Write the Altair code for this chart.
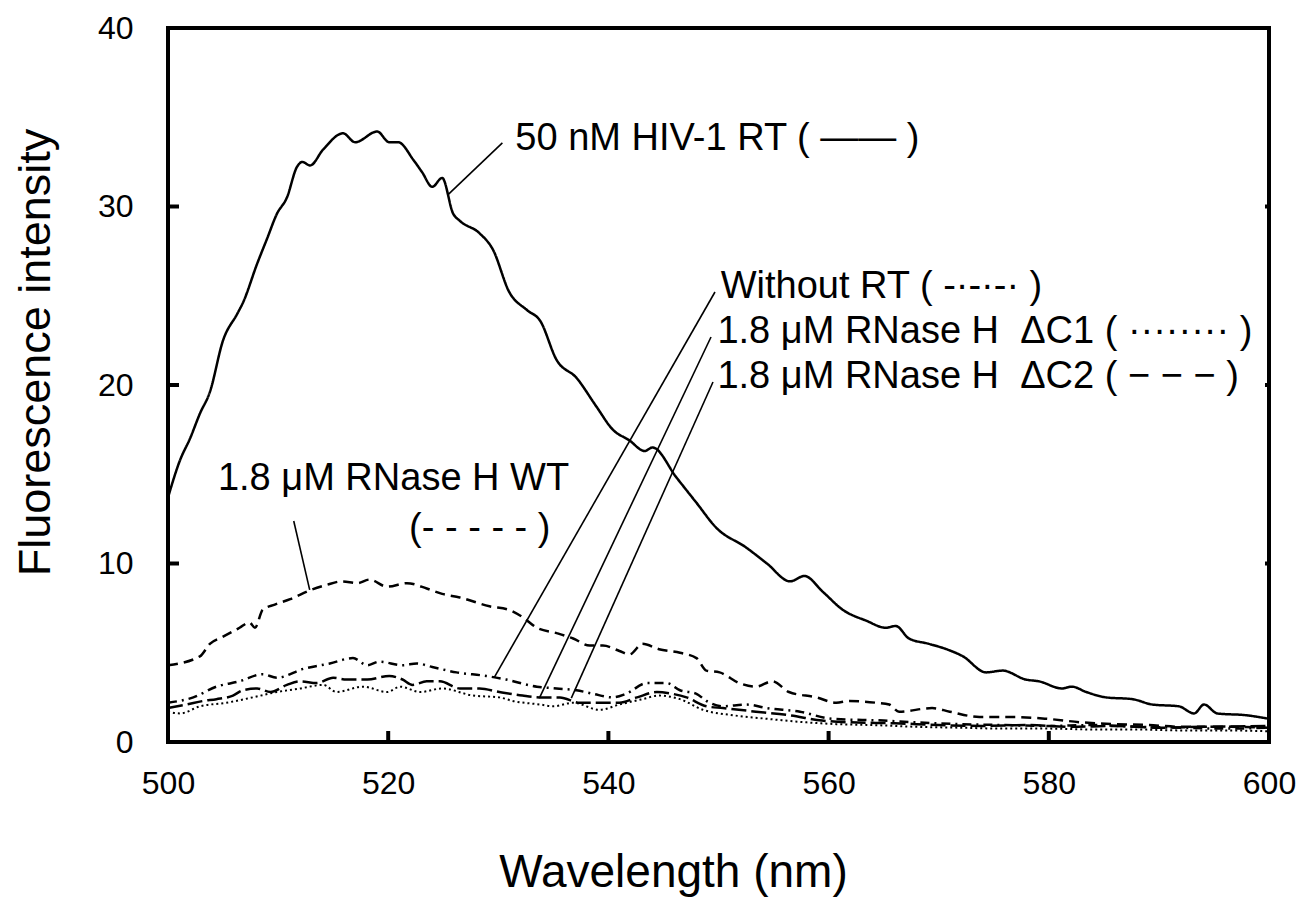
import altair as alt
import pandas as pd

# ---------------- data ----------------
wl_rt = [500, 501.1, 502.0, 502.9, 503.8, 505.0, 506.3, 506.8, 508.1, 509.0, 509.9, 510.8, 511.7, 512.2,
         512.9, 514.1, 515.9, 517.0, 519.0, 520.1, 520.9, 522.3, 523.1, 524.0, 524.9, 525.9, 526.5, 528.3,
         529.5, 531.0, 532.6, 533.8, 535.3, 537.1, 538.9, 540.4, 541.9, 543.3, 544.0, 546.2, 548.0, 549.8,
         552.5, 554.4, 556.5, 557.8, 559.5, 561.3, 563.4, 565.2, 566.1, 567.3, 569.1, 570.7, 572.2, 574.3,
         575.8, 577.9, 579.1, 581.2, 582.1, 583.4, 585.2, 587.6, 589.4, 591.8, 593.2, 594.1, 595.3, 597.9, 600]
fi_rt = [13.7, 15.8, 17.0, 18.4, 19.6, 22.5, 24.0, 24.6, 26.8, 28.2, 29.6, 30.5, 32.2, 32.5,
         32.3, 33.2, 34.1, 33.6, 34.2, 33.6, 33.6, 32.6, 31.9, 31.1, 31.6, 29.6, 29.2, 28.5,
         27.6, 25.2, 24.2, 23.6, 21.4, 20.4, 18.8, 17.5, 16.9, 16.3, 16.5, 14.8, 13.4, 12.0,
         10.9, 10.0, 9.0, 9.3, 8.4, 7.4, 6.8, 6.4, 6.5, 5.8, 5.5, 5.2, 4.8, 3.9,
         4.0, 3.5, 3.4, 3.0, 3.1, 2.8, 2.5, 2.4, 2.1, 2.0, 1.6, 2.1, 1.6, 1.5, 1.3]

wl_wt = [500, 502.9, 503.8, 505.0, 506.5, 507.4, 507.9, 508.6, 509.7, 511.1, 512.9, 514.4, 515.8, 517.2,
         518.3, 519.9, 521.7, 523.5, 524.9, 526.5, 529.2, 531.0, 532.2, 533.5, 535.3, 536.8, 538.3, 539.5,
         541.0, 541.9, 543.1, 544.6, 546.5, 548.0, 548.9, 550.1, 551.9, 553.4, 554.9, 556.4, 558.9, 560.7,
         561.9, 564.3, 565.5, 566.4, 569.4, 571.0, 573.7, 576.7, 579.8, 583.0, 586.1, 589.1, 592.1, 596.6, 600]
fi_wt = [4.3, 4.8, 5.5, 5.9, 6.4, 6.7, 6.4, 7.4, 7.7, 8.0, 8.5, 8.8, 9.0, 8.9,
         9.1, 8.7, 8.9, 8.6, 8.3, 8.1, 7.6, 7.4, 7.0, 6.4, 6.1, 5.8, 5.4, 5.4,
         5.1, 4.9, 5.5, 5.2, 5.0, 4.7, 4.0, 3.9, 3.3, 3.1, 3.4, 2.8, 2.5, 2.2,
         2.3, 2.2, 2.1, 1.7, 1.9, 1.7, 1.4, 1.4, 1.3, 1.1, 1.0, 0.95, 0.85, 0.85, 0.8]

wl_no = [500, 502.3, 504.4, 506.5, 508.6, 509.9, 512.3, 514.7, 516.8, 518.1, 519.2, 521.3, 522.6, 524.0,
         526.2, 528.9, 530.7, 533.5, 535.3, 537.1, 538.6, 540.4, 541.6, 543.5, 545.3, 546.5, 548.0, 548.9,
         550.4, 552.5, 554.4, 557.4, 560.3, 565, 568, 572, 576, 580, 584, 588, 592, 596, 600]
fi_no = [2.2, 2.5, 3.1, 3.4, 3.8, 3.6, 4.1, 4.4, 4.7, 4.3, 4.5, 4.3, 4.4, 4.2,
         3.9, 3.7, 3.5, 3.1, 3.0, 2.9, 2.7, 2.5, 2.7, 3.3, 3.3, 2.9, 2.7, 2.3,
         2.0, 2.1, 1.9, 1.7, 1.3, 1.2, 1.1, 1.0, 0.95, 0.9, 0.95, 0.85, 0.8, 0.75, 0.8]

wl_c1 = [500, 501.1, 502.9, 505.3, 507.7, 509.9, 512.0, 514.1, 515.3, 517.7, 519.9, 521.1, 522.9, 524.9,
         527.7, 530.1, 531.3, 533.8, 535.0, 536.8, 539.2, 541.0, 543.1, 544.6, 546.5, 548.6, 551.3, 554.4,
         558.0, 560.7, 564, 568, 572, 576, 580, 584, 588, 592, 596, 600]
fi_c1 = [1.7, 1.6, 2.0, 2.2, 2.5, 2.8, 3.0, 3.2, 2.8, 3.1, 2.8, 3.1, 2.8, 3.0,
         2.6, 2.5, 2.3, 2.1, 2.0, 2.2, 1.8, 2.1, 2.4, 2.6, 2.4, 1.8, 1.5, 1.3,
         1.1, 1.0, 0.95, 0.85, 0.8, 0.75, 0.75, 0.7, 0.7, 0.65, 0.65, 0.6]

wl_c2 = [500, 501.7, 503.2, 504.4, 505.9, 506.8, 508.1, 509.3, 510.8, 512.0, 513.5, 515.0, 516.2, 518.1,
         520.1, 521.3, 522.2, 523.5, 524.7, 526.5, 528.3, 530.1, 532.2, 534.0, 535.6, 537.4, 539.5, 541.0,
         542.6, 544.4, 545.8, 547.1, 548.9, 550.4, 553.4, 556.4, 559.4, 562, 566, 570, 574, 578, 582, 586,
         590, 594, 600]
fi_c2 = [1.9, 2.1, 2.3, 2.4, 2.6, 2.9, 3.0, 2.8, 3.2, 3.4, 3.3, 3.6, 3.5, 3.5,
         3.7, 3.5, 3.2, 3.4, 3.4, 3.0, 3.0, 2.8, 2.6, 2.5, 2.5, 2.2, 2.2, 2.2,
         2.5, 2.8, 2.7, 2.5, 2.0, 1.9, 1.7, 1.5, 1.2, 1.1, 1.05, 0.95, 0.9, 0.95, 0.85, 0.9,
         0.8, 0.85, 0.9]

x_ticks = [520, 540, 560, 580]
y_ticks = [10, 20, 30]
x_labels = [500, 520, 540, 560, 580, 600]
y_labels = [0, 10, 20, 30, 40]

NB = "\u00a0"
ann_text = ["50 nM HIV-1 RT (" + NB + "\u2014\u2014" + NB + ")",
            "1.8 \u03bcM RNase H WT",
            "(- - - - - )",
            "Without RT (" + NB + "-\u00b7-\u00b7-\u00b7" + NB + ")",
            "1.8 \u03bcM RNase H" + NB + NB + "\u0394C1 (" + NB + "\u00b7\u00b7\u00b7\u00b7\u00b7\u00b7\u00b7\u00b7" + NB + ")",
            "1.8 \u03bcM RNase H" + NB + NB + "\u0394C2 (" + NB + "\u2212" + NB + "\u2212" + NB + "\u2212" + NB + ")"]
ann_x = [531.55, 504.53, 521.9, 550.2, 549.9, 549.9]
ann_y = [33.17, 14.12, 11.3, 24.87, 22.35, 19.83]

lead_x1 = [525.39, 511.42, 549.68, 549.32, 549.50]
lead_y1 = [30.64, 12.38, 25.21, 22.69, 20.17]
lead_x2 = [530.37, 512.87, 529.65, 533.73, 536.63]
lead_y2 = [33.56, 8.52, 3.64, 2.46, 2.46]

W, H = 1101, 714
FONT = "Liberation Sans"

xs = alt.Scale(domain=[500, 600], nice=False, zero=False)
ys = alt.Scale(domain=[0, 40], nice=False)

xaxis = alt.Axis(values=x_labels, labelFontSize=32, labelFont=FONT, labelColor="black", labelFlush=False,
                 ticks=False, tickSize=0, domain=False, grid=False, labelPadding=26,
                 title="Wavelength (nm)", titleFont=FONT, titleFontSize=46, titleFontWeight="normal",
                 titleColor="black", titleX=505, titleY=144, titleBaseline="alphabetic", titleAlign="center")
yaxis = alt.Axis(values=y_labels, labelFontSize=32, labelFont=FONT, labelColor="black", labelFlush=False,
                 ticks=False, tickSize=0, domain=False, grid=False, labelPadding=35,
                 title="Fluorescence intensity", titleFont=FONT, titleFontSize=45, titleFontWeight="normal",
                 titleColor="black", titleX=-133, titleY=324, titleBaseline="middle", titleAlign="center",
                 titleAngle=270)


def series(wl, fi, dash, width):
    df = pd.DataFrame({"wl": wl, "fi": fi})
    return alt.Chart(df).mark_line(color="black", strokeWidth=width, strokeDash=dash,
                                   interpolate="monotone").encode(
        x=alt.X("wl:Q", scale=xs, axis=xaxis),
        y=alt.Y("fi:Q", scale=ys, axis=yaxis),
    )


lines = [
    series(wl_rt, fi_rt, [1, 0], 2.5),
    series(wl_wt, fi_wt, [10, 6], 2.5),
    series(wl_no, fi_no, [9, 5, 2, 5], 2.5),
    series(wl_c1, fi_c1, [2, 3], 2.0),
    series(wl_c2, fi_c2, [15, 5], 2.5),
]

leads = alt.Chart(pd.DataFrame({"x1": lead_x1, "y1": lead_y1, "x2": lead_x2, "y2": lead_y2})).mark_rule(
    color="black", strokeWidth=1.6).encode(
    x=alt.X("x1:Q", scale=xs), y=alt.Y("y1:Q", scale=ys), x2="x2:Q", y2="y2:Q")

texts = alt.Chart(pd.DataFrame({"t": ann_text, "x": ann_x, "y": ann_y})).mark_text(
    align="left", baseline="alphabetic", fontSize=38, font=FONT, color="black").encode(
    x=alt.X("x:Q", scale=xs), y=alt.Y("y:Q", scale=ys), text="t:N")

xt = alt.Chart(pd.DataFrame({"v": x_ticks})).mark_rule(color="black", strokeWidth=4).encode(
    x=alt.X("v:Q", scale=xs), y=alt.value(H), y2=alt.value(H - 11))
yt = alt.Chart(pd.DataFrame({"v": y_ticks})).mark_rule(color="black", strokeWidth=4).encode(
    y=alt.Y("v:Q", scale=ys), x=alt.value(0), x2=alt.value(11))
yt2 = alt.Chart(pd.DataFrame({"v": y_ticks})).mark_rule(color="black", strokeWidth=4).encode(
    y=alt.Y("v:Q", scale=ys), x=alt.value(W), x2=alt.value(W - 4))

chart = alt.layer(*lines, leads, texts, xt, yt, yt2).properties(
    width=W, height=H,
    autosize=alt.AutoSizeParams(type="none"),
    padding={"left": 160, "top": 20, "right": 27, "bottom": 155},
    background="white",
).configure_view(stroke="black", strokeWidth=4)

chart.save("out.html", embed_options={"renderer": "svg", "actions": False})
